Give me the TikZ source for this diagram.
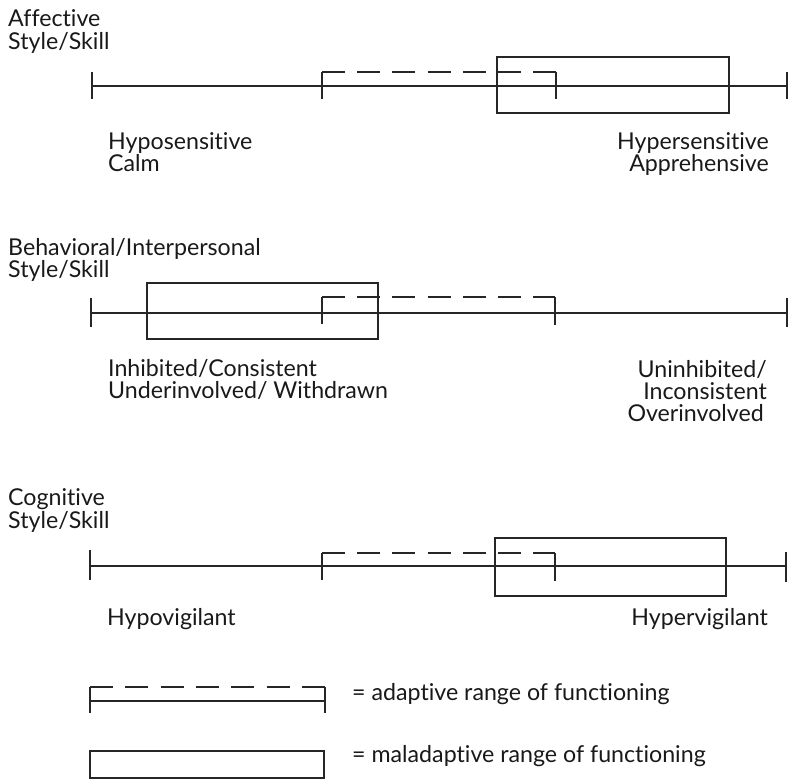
\documentclass[tikz,border=0pt]{standalone}
\usepackage{fontspec}
\setmainfont[Ligatures=NoCommon]{Lato}
\begin{document}
\begin{tikzpicture}[x=1pt,y=-1pt,
  rule/.style={line width=1.1pt, black!85, line cap=butt},
  heavyend/.style={line width=2.6pt, black!85},
  adaptive/.style={line width=1.1pt, black!85, dash pattern=on 23pt off 12.2pt},
  maladaptive/.style={line width=1.1pt, black!85},
  lbl/.style={inner sep=0pt, text=black!90, font=\fontsize{23.2}{23.2}\selectfont},
]
\useasboundingbox (0,0) rectangle (789,781);

% ---- Affective style/skill ----
\node[lbl, anchor=base west] (affh1) at (8,27) {Affective};
\node[lbl, anchor=base west] (affh2) at (8,50) {Style/Skill};
\draw[rule] (92,86) -- (787,86);
\draw[rule] (92,72) -- (92,99);
\draw[rule] (322,99) -- (322,72);
\draw[adaptive] (322,72) -- (556,72);
\draw[rule] (556,72) -- (556,99);
\draw[heavyend] (787,72) -- (787,99);
\draw[maladaptive] (497,57) rectangle (729,113);
\node[lbl, anchor=base west] (affl1) at (108,149) {Hyposensitive};
\node[lbl, anchor=base west] (affl2) at (108,171) {Calm};
\node[lbl, anchor=base east] (affr1) at (769,149) {Hypersensitive};
\node[lbl, anchor=base east] (affr2) at (769,171) {Apprehensive};

% ---- Behavioral/interpersonal style/skill ----
\node[lbl, anchor=base west] (behh1) at (8,255) {Behavioral/Interpersonal};
\node[lbl, anchor=base west] (behh2) at (8,277) {Style/Skill};
\draw[rule] (91,313) -- (787,313);
\draw[rule] (91,298) -- (91,327);
\draw[rule] (322,324) -- (322,297);
\draw[adaptive] (322,297) -- (555,297);
\draw[rule] (555,297) -- (555,325);
\draw[rule] (787,298) -- (787,327);
\draw[maladaptive] (147,283) rectangle (378,339);
\node[lbl, anchor=base west] (behl1) at (108,376) {Inhibited/Consistent};
\node[lbl, anchor=base west] (behl2) at (108,398) {Underinvolved/ Withdrawn};
\node[lbl, anchor=base east] (behr1) at (767,377) {Uninhibited/};
\node[lbl, anchor=base east] (behr2) at (767,399) {Inconsistent};
\node[lbl, anchor=base east] (behr3) at (764,421) {Overinvolved};

% ---- Cognitive style/skill ----
\node[lbl, anchor=base west] (cogh1) at (8,505) {Cognitive};
\node[lbl, anchor=base west] (cogh2) at (8,528) {Style/Skill};
\draw[rule] (90,566) -- (786,566);
\draw[rule] (90,550) -- (90,580);
\draw[rule] (322,580) -- (322,553);
\draw[adaptive] (322,553) -- (555,553);
\draw[rule] (555,553) -- (555,581);
\draw[rule] (786,552) -- (786,582);
\draw[maladaptive] (495,538) rectangle (726,596);
\node[lbl, anchor=base west] (cogl1) at (107,625) {Hypovigilant};
\node[lbl, anchor=base east] (cogr1) at (768,625) {Hypervigilant};

% ---- Legend ----
\draw[rule] (90,713) -- (90,687);
\draw[adaptive, dash pattern=on 23pt off 12.3pt] (90,687) -- (325,687);
\draw[rule] (325,687) -- (325,713);
\draw[rule] (90,701) -- (325,701);
\node[lbl, anchor=base west] (legA) at (352,700) {= adaptive range of functioning};
\draw[maladaptive] (90,751) rectangle (324,778);
\node[lbl, anchor=base west] (legM) at (352,762) {= maladaptive range of functioning};
\end{tikzpicture}
\end{document}
